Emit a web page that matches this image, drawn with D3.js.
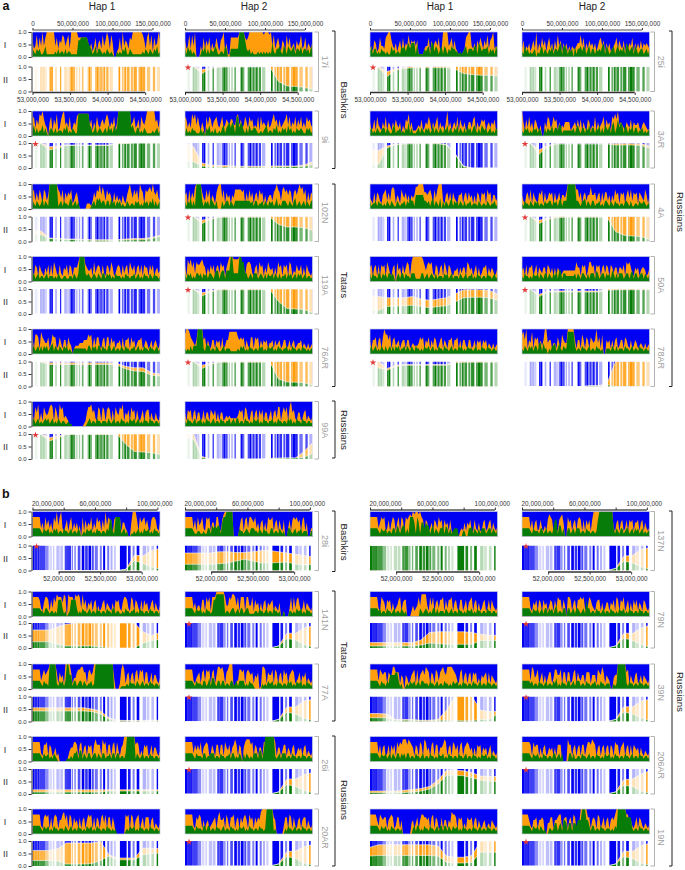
<!DOCTYPE html>
<html>
<head>
<meta charset="utf-8">
<script src="https://cdn.jsdelivr.net/npm/d3@7"></script>
<style>
  html, body { margin: 0; padding: 0; background: #fff; }
  svg { display: block; }
  text { font-family: "Liberation Sans", Arial, sans-serif; }
</style>
</head>
<body>
<svg id="chart" width="685" height="870"></svg>
<script>
// Genome-wide ancestry (I): one digit per step along the chromosome, 0-9 = 0.0-1.0.
// Order is row by row: Hap 1, Hap 2, Hap 1, Hap 2.
const genomeGreenA = [
  "3213231124 1111112131 2213122111 1166777775 4312413321 2132121002 1213241132 1111111213 2132132412",
  "3142312100 0132413132 2431122143 0033333399 9963231211 1212121212 1521334214 3143234133 2413323142",
  "2413312132 2121142312 2143424535 5515111132 3415524313 4143132433 2212123413 3324415423 3341323142",
  "2142312123 0213413213 2413324514 4313230413 3424313413 3132324514 3123413423 2415423414 3123312313",
  "2413122413 1023213122 2132412132 1188888888 4312412321 2314231423 9999999993 4213312132 1111212312",
  "1312132211 1312032412 1311213413 4535417735 4213142233 2112123412 2132412132 3142312132 2321132312",
  "2312132123 3132113412 2312132513 1112313213 2312413213 2132413213 2413213142 3134213143 2312312132",
  "2132312132 3132003132 2413324412 2222223134 2133132413 3132413143 2414513635 4143132413 3122312122",
  "3213212413 2199999912 3132213412 3130000000 0123143423 3133142313 2312113212 2132312132 3132413123",
  "3132413199 9931323143 2130003123 3132133333 3333332313 3122313213 2312412133 3213213412 3123132133",
  "3122313221 2132132113 2122313243 3155555533 2313413214 0313213413 2313213122 3122213212 2132122312",
  "2132213213 2312213223 3132313413 3399999933 2133413213 3122312133 2132132212 2133213112 2132232122",
  "2312312212 3122212132 1122112213 2139999323 2123213213 3132312132 2212132212 2312312132 2132132212",
  "3132312133 2313231332 1344134414 4499333399 7733123133 3123213132 2313213122 3132312313 2312312212",
  "3132213313 2313323102 3133132213 3311113312 3123213122 2132312312 2213212312 2312132212 2132212312",
  "2132212132 2313213313 2132414413 3222222313 2133213133 3143123313 2314313133 3123313413 3123313213",
  "2312313132 3123413213 2132312102 2222222213 3132313313 2213312312 2132132212 2312312132 2132212312",
  "2121313339 9992143312 2132112312 2211111213 2312132212 2132312132 2312132212 2312132212 2132212122",
  "2312312132 1312313132 3122313213 2132212132 2312312132 2132212312 2132312132 2212312132 2132212212",
  "2132132313 3144142202 1334124213 2288888312 2132212312 2132212002 2213213122 2132212312 2132212212",
  "2312312123 2312312132 1221121100 0000000012 3122132212 2213212312 2132212132 2312312132 2132212212",
  "2132212312 2312132212 3122132212 2312313312 2132212132 2312132212 2312132212 2132312132 2132212212"
];
const genomeOrangeA = [
  "6348374947 9999994736 5874683999 9977777775 3524725638 4697385002 3729465376 9999999863 7948274596",
  "6348384900 0427364725 3474267925 1177777799 9976799999 9999989998 9483574265 2847345264 5834725436",
  "3426523744 3789964352 4627354846 5646111134 4726356472 3999945736 3211123789 9435264753 6483679343",
  "3624352463 9253746257 3526384625 3524243345 5847253645 3524674625 3523457364 3625354725 3536354543",
  "6736487964 3057264823 6894537235 4788888888 4625374356 4686354725 9999999994 5734627546 9999995636",
  "7635386847 4253074763 5674357346 5466447846 3475375634 3727454363 4685636345 6847354736 4735375643",
  "5236274325 3725425364 3514265835 2223436235 4752535725 3425935245 3726435235 5367253465 6245354623",
  "9526373526 5324005376 3475625243 5555234536 3625326524 3725345726 4527686945 4325436254 4532454323",
  "6736375276 3599999976 4726465723 5630000022 2136476958 6375642635 3425325796 4757397627 6786965743",
  "5627364899 9964374725 4268994726 4525477777 6726374625 6375625245 5367976378 6757626757 9785726365",
  "4326265325 6736378725 4275463525 4588999966 5675274799 9325636264 3255625636 4525265265 6275625534",
  "5325637264 3265726346 5626346255 4699999977 4625635585 5635626366 3525375626 5625747365 6265437525",
  "4265264325 3626275326 3254626525 5579999654 4527356526 3265375235 6526356275 4625636265 5264624534",
  "6286857376 6786525364 6256375625 7999888899 6626776325 6275625375 4525275626 5627624364 4625264324",
  "5625626265 6275325607 4526357627 9999999864 6767326525 6275265324 4525355276 4524625235 5625354235",
  "4526255624 6254355265 3525254234 4444444475 5265624775 6265625636 5265355255 4627675325 4524554235",
  "6277628654 4624766236 4255264302 3334445557 6726366325 6266264524 4526255626 4524556235 4235245324",
  "7998654359 9995625325 5254526235 5888888656 5625326626 5625354524 4525345235 5235245234 4524324234",
  "5255625626 9775725634 5245525523 4333465625 4625365235 6254255625 5625255325 5235254525 4524324234",
  "7859254826 5625359945 5244264275 4499999525 5275265265 4594627005 4525256235 5265325235 4234324234",
  "5275825275 4578727528 6734320000 0000001257 7856327627 6267626275 4768254627 5626324625 6625325324",
  "5265625625 5236255265 4625255234 3433333465 6276325625 6264625524 6256377257 5727956325 5235624324"
];
const genomeGreenB = [
  "3333332132 2312132312 2132212312 2132012132 2312132212 2132662177 7712312001 1212312132 2312132212",
  "3333332112 2112113314 3434415779 9999000032 2123213332 2132132211 3312213212 0033212312 2312220022",
  "3333332132 2312213314 3134413177 7517515535 4413413213 3414313123 3300022003 3413213133 3123313213",
  "3333332132 2213312312 2136614413 0033123133 3122132212 2126999999 9999313213 3123312313 2312312122",
  "3333332213 3212212166 6312012666 6312132212 3122132212 2132213312 2112132212 2312132212 2132212212",
  "3333332132 2312132212 6688888812 2123312313 3123311112 2132212312 2132212002 0002212132 2312132212",
  "3333332312 2132212312 2132120000 0000032123 2121331312 2213212312 2132212132 2312132212 2132212212",
  "3333332132 2312313313 2313412213 3033123133 2123163312 2132212312 2132212132 2312132212 2132212212",
  "3333332132 2199999213 2313995513 3123313212 2312999999 9999999000 0011112132 2213212312 2132212212",
  "3333332132 2213312414 4213313312 2133123133 3312132210 0000212132 2312132212 2132312132 2312132212",
  "3333332132 2132555566 3120012132 2312313322 2132212312 2132212132 2312132212 2132212312 2132212212",
  "3333332312 2132212312 2132412132 2133123133 3122132212 2312132212 2200212999 9992132212 2132212212",
  "3333332132 2312132100 0000111213 3414413213 3123313213 3122313313 3122139999 9913212312 2132212212",
  "3333332132 2213312233 3122132212 2313312132 0313212133 3144149999 9992123133 3122132212 2132212212",
  "3333332132 2312313213 3132313312 2132212312 2132212132 2312132212 2132212312 2132212132 2312132212",
  "3333332132 2312132212 2133123130 0003313112 2132212312 2132212132 2312132212 2132212312 2132212212",
  "3333332132 2312132212 2213212312 2132212132 2312132212 2132212120 0000012132 2312132212 2132212212",
  "3333332132 2213313312 2132212312 2132212132 2312132212 2132212999 9912000000 2132212312 2132212212",
  "3333332132 2312132212 2120000000 2313312132 2132212313 3133132132 2312132212 2132212312 2132212212",
  "3333332132 2313212002 2124413415 5414414435 5599955313 3122132212 2212132999 9996666212 2132212212"
];
const genomeOrangeB = [
  "7777773527 4635275947 9324625725 3524072635 4725375626 3947661677 7725532005 9996275674 6326776325",
  "7777773627 4573276725 5277326899 9999000036 7267377657 3525625276 6725626326 0036267675 6267250033",
  "7777773576 7236257625 7276276787 9899897626 5235265375 6264526210 0002325254 6226325225 6235625324",
  "7777773625 6236324268 7625326785 0075625626 7626264626 9999999999 9999325625 6236265625 5625625324",
  "7777763257 7626375877 7587087775 8787384625 4625624235 6254325265 6325776327 6265326264 5235625324",
  "7777773524 4266275727 7799999974 4768874727 7727744726 4525256254 5624325002 0003727367 4236254324",
  "7777773276 5265625234 6725660002 4234748888 4274725636 6726366725 6326624625 6725625235 6236264324",
  "7777773254 6265264524 6526376626 4077625626 6767324764 3256625235 5254627626 5724625264 6254265324",
  "7777773575 6799999626 4529999624 4677886626 7569999999 9999999400 0279725625 6267376726 6236255324",
  "7777773245 6267376726 7258878626 7999003377 6726765625 4601887265 5727625627 5625676234 6254624324",
  "7777773765 6626558866 6254054235 6727256758 7626527636 7865888876 5326725625 6265624254 5626254324",
  "7777773874 5724625246 6247755726 6266236726 4355266625 5527658625 4300455999 9996725325 6235254324",
  "7777773266 7265235230 0000024557 7626725626 5626866628 6726626727 4256999999 9967624265 6236255324",
  "7777773646 4725676236 4266266275 4625686265 0578886726 5255277999 9997255246 6254256235 4525624324",
  "7777773625 6236264627 5768886876 5265276287 4526726625 5687256276 4626725676 4525265625 4524624324",
  "7777776275 6625256235 4525266600 0086625625 6266257768 7625625625 6265276625 6725626265 4525324324",
  "7777773267 6726267625 5785727626 4526256257 6726265267 4726626400 0000076727 6256724626 6625624324",
  "7777773265 7625245234 5626855627 5266725626 4675275626 4658999999 9965000003 6627626325 6256625324",
  "7777753765 6625676236 6250000004 5246257766 5626726522 6255254877 6265624265 5625625324 5234254324",
  "7777753255 6255650044 6625567725 6625627624 4999996625 6527624625 6256579999 9997725324 6265324324"
];

// Local ancestry (II): percent at 16 even steps across the region.
const fullLevel = [100,100,100,100,100,100,100,100,100,100,100,100,100,100,100,100];
const noLevel = [0,0,0,0,0,0,0,0,0,0,0,0,0,0,0,0];
const localGreenA = [
  noLevel, [100,100,72,92,97,98,98,98,98,98,98,40,22,20,17,8], [100,95,60,85,92,95,95,95,95,95,90,72,68,65,65,62], fullLevel,
  [100,97,72,80,90,90,90,90,90,90,97,98,100,100,100,100], [30,25,8,5,3,3,3,3,3,3,3,4,5,5,7,15], [15,15,80,93,96,97,97,97,97,92,55,5,0,0,0,0], [100,100,55,85,96,96,96,96,96,96,96,92,92,92,90,80],
  [30,28,12,10,8,8,6,5,5,5,5,6,7,7,12,20], [100,100,72,88,97,97,97,97,97,97,97,68,58,58,55,45], noLevel, [100,100,72,88,95,97,97,97,97,97,97,40,25,22,20,8],
  noLevel, [100,100,72,88,97,97,97,97,97,97,97,50,22,20,18,5], [15,15,30,32,33,35,30,25,30,33,48,65,67,67,65,55], [100,100,70,88,88,88,88,88,88,88,95,97,97,97,97,97],
  [100,97,88,88,88,88,88,88,88,88,85,70,62,60,45,42], [100,100,72,88,97,97,97,97,97,97,97,30,18,17,15,5], [100,75,65,80,85,85,85,85,85,85,95,97,97,97,97,97], [0,0,0,0,0,0,0,0,3,3,7,0,0,0,0,0],
  [100,98,72,85,98,98,98,98,98,98,98,58,30,28,25,18], [85,80,5,0,0,0,0,0,0,0,2,3,4,4,7,22]
];
const localOrangeA = [
  fullLevel, [100,100,88,95,100,100,100,100,100,100,100,100,100,100,100,100], [100,100,80,90,97,100,100,100,100,100,100,100,100,100,100,100], fullLevel,
  [100,100,85,88,92,92,92,92,92,92,100,100,100,100,100,100], [100,85,20,12,10,10,7,7,7,7,8,8,8,8,12,25], [75,70,88,96,98,99,99,99,99,95,58,8,0,0,0,0], [100,100,72,90,98,98,98,98,98,98,98,98,98,98,97,88],
  [45,42,14,12,10,10,8,7,7,7,7,10,12,12,16,25], [100,100,85,93,100,100,100,100,100,100,100,100,100,100,100,100], noLevel, [100,100,85,93,100,100,100,100,100,100,100,100,100,100,100,100],
  noLevel, [100,100,85,93,100,100,100,100,100,100,100,100,100,100,100,100], [72,70,65,65,65,70,60,55,60,65,80,97,97,97,95,80], [100,100,78,92,92,92,92,92,92,92,100,100,100,100,100,100],
  [100,100,95,95,95,95,95,95,95,95,92,80,75,75,55,50], [100,100,85,93,100,100,100,100,100,100,100,100,100,100,100,100], [100,100,72,85,88,88,88,88,88,88,100,100,100,100,100,100], [0,0,0,0,0,0,0,0,3,3,12,100,100,100,100,100],
  [100,100,85,92,100,100,100,100,100,100,100,100,100,100,100,100], [100,100,10,0,0,0,0,0,0,0,2,3,4,4,30,65]
];
const localGreenB = [
  [0,0,0,0,0,0,0,0,0,0,0,5,40,28,15,5], [25,25,25,25,27,30,38,45,38,30,30,32,34,25,22,25], fullLevel, [0,0,0,0,0,0,0,0,0,0,0,8,38,30,15,5],
  [25,25,25,15,8,8,8,8,5,0,0,0,0,20,30,35], [0,0,0,0,0,0,0,0,0,0,0,8,38,32,15,4], [8,8,8,8,8,8,12,20,18,15,15,15,15,30,30,30], [0,0,0,0,0,0,0,0,0,0,0,8,40,30,15,3],
  [42,42,42,42,42,42,42,40,30,10,3,3,3,3,3,3], [0,0,0,0,0,0,0,0,0,0,0,8,38,30,14,4], [15,15,15,5,5,5,3,2,5,5,5,3,3,8,8,30], [0,0,0,0,0,0,0,0,0,0,0,8,38,30,15,3],
  [8,8,8,8,8,8,8,8,8,12,12,12,12,12,12,12], [0,0,0,0,0,0,0,0,0,0,0,8,38,30,14,5], [5,5,5,5,6,8,12,20,40,75,75,73,65,55,52,50], [0,0,0,0,0,0,0,0,0,0,0,8,35,30,12,3],
  [22,22,22,20,8,8,8,10,22,40,25,25,25,45,50,52], [0,0,0,0,0,0,0,0,0,0,0,8,38,30,12,4], [40,42,42,42,42,42,42,42,40,15,12,12,15,55,55,55], [0,0,0,0,0,0,0,0,0,0,0,8,38,30,12,3]
];
const localOrangeB = [
  [0,0,0,0,0,0,0,0,0,0,0,5,62,58,80,88], [70,70,70,70,75,75,72,72,75,80,80,75,70,65,60,55], fullLevel, [0,0,0,0,0,0,0,0,0,0,0,8,58,60,85,90],
  [72,72,72,85,95,100,100,100,100,100,100,100,100,65,50,62], [0,0,0,0,0,0,0,0,0,0,0,8,60,58,80,88], [22,22,22,22,22,22,32,62,65,65,65,65,62,55,52,50], [0,0,0,0,0,0,0,0,0,0,0,8,60,58,80,90],
  [55,55,55,55,55,55,55,50,42,15,5,4,4,4,5,5], [0,0,0,0,0,0,0,0,0,0,0,8,58,58,82,88], [32,32,30,8,8,8,5,5,8,45,100,100,100,45,40,40], [0,0,0,0,0,0,0,0,0,0,0,8,60,58,82,88],
  [17,17,17,17,17,17,17,17,17,17,17,17,17,17,17,17], [0,0,0,0,0,0,0,0,0,0,0,8,60,60,78,85], [12,12,12,12,15,18,22,30,55,95,95,93,85,72,70,70], [0,0,0,0,0,0,0,0,0,0,0,8,58,60,80,92],
  [62,62,62,70,92,92,92,92,98,45,32,32,32,72,70,70], [0,0,0,0,0,0,0,0,0,0,0,8,58,60,78,85], [75,85,85,85,85,85,85,85,80,40,35,35,42,100,100,100], [0,0,0,0,0,0,0,0,0,0,0,8,60,58,82,90]
];

// Genotyped sites: region start and end in Mb, and how dense they are.
const sitesStartA = [53.031,53.102,53.120,53.138,53.169,53.226,53.250,53.302,53.368,53.422,53.457,53.493,53.510,53.537,53.581,53.617,53.657,53.732,53.746,53.768,53.834,53.857,53.879,53.901,53.923,53.945,53.981,54.025,54.145,54.190,54.221,54.256,54.309,54.345,54.411,54.434,54.465,54.522,54.602,54.655];
const sitesEndA = [53.067,53.120,53.138,53.165,53.191,53.250,53.271,53.324,53.382,53.457,53.490,53.510,53.537,53.568,53.599,53.635,53.679,53.746,53.768,53.790,53.857,53.879,53.901,53.923,53.945,53.968,54.012,54.070,54.167,54.212,54.247,54.292,54.336,54.389,54.434,54.465,54.500,54.567,54.633,54.700];
const sitesDensityA = [.08,.35,.25,.3,.2,.85,1,.3,1,.3,.2,.6,.95,.7,.3,.35,.6,.4,1,.6,.7,1,.5,.8,.5,.9,.75,.3,1,.6,.9,.8,.7,.85,.7,1,.85,.55,.7,.3];
const sitesStartB = [51.685,51.710,51.746,51.770,51.839,51.887,51.931,51.972,52.020,52.073,52.101,52.157,52.190,52.230,52.278,52.319,52.359,52.399,52.435,52.496,52.536,52.585,52.625,52.665,52.738,52.835,52.891,52.940,53.012,53.060,53.117,53.181];
const sitesEndB = [51.710,51.746,51.770,51.839,51.879,51.919,51.948,52.012,52.052,52.101,52.149,52.173,52.206,52.262,52.310,52.351,52.391,52.423,52.472,52.520,52.560,52.609,52.649,52.690,52.819,52.867,52.915,52.972,53.052,53.093,53.149,53.198];
const sitesDensityB = [1,.85,.9,.75,.45,.15,.2,.25,.25,.75,.8,.5,.55,.7,1,.8,1,.7,.55,.5,1,.55,.3,.2,1,.9,.5,1,.3,.2,.25,1];

// Rows of samples, left pair of columns then right pair
const samplesLeftA = ["17i", "9i", "102N", "119A", "76AR", "99A"];
const samplesRightA = ["25i", "3AR", "4A", "50A", "78AR"];
const samplesLeftB = ["28i", "141N", "77A", "26i", "20AR"];
const samplesRightB = ["137N", "79N", "39N", "206AR", "19N"];

// Which panels carry the red star: [row, column]
const starsA = [[0,1],[0,2],[1,0],[1,3],[2,1],[2,3],[3,1],[3,3],[4,1],[4,2],[5,0]];
const starsB = [[0,0],[0,3],[1,1],[1,3],[2,1],[2,3],[3,1],[3,3],[4,1],[4,3]];

const genomeTicksA = [0, 50000000, 100000000, 150000000];
const regionTicksA = [53000000, 53500000, 54000000, 54500000];
const genomeTicksB = [20000000, 40000000, 60000000, 80000000, 100000000];
const regionTicksB = [52000000, 52500000, 53000000];

const BLUE = "#0000f2", GREEN = "#087c08", ORANGE = "#ff9d0c";
const columns = [32.5, 185, 370, 522];
const panelW = 127.5, panelH = 25;

const svg = d3.select("#chart");
const commaFormat = d3.format(",");
const y = d3.scaleLinear().domain([0, 1]).range([panelH, 0]);

// bars of the local panels live in a mask, one per section
function addMask(id, starts, ends, density, x) {
  const mask = svg.append("mask")
    .attr("id", id)
    .attr("maskUnits", "userSpaceOnUse")
    .attr("x", -2).attr("y", -2)
    .attr("width", panelW + 4).attr("height", panelH + 4);
  mask.selectAll("rect")
    .data(starts)
    .enter()
    .append("rect")
    .attr("x", (d) => x(d))
    .attr("width", (d, i) => x(ends[i]) - x(d))
    .attr("y", 0)
    .attr("height", panelH)
    .attr("fill", "#fff")
    .attr("fill-opacity", (d, i) => density[i]);
}

function seriesArea(values) {
  const x = d3.scaleLinear().domain([0, values.length - 1]).range([0, panelW]);
  return d3.area()
    .x((d, i) => x(i))
    .y0(panelH)
    .y1((d) => y(d))(values);
}

function seriesLine(values) {
  const x = d3.scaleLinear().domain([0, values.length - 1]).range([0, panelW]);
  return d3.line()
    .x((d, i) => x(i))
    .y((d) => y(d))(values);
}

function yAxis(g) {
  g.call(d3.axisLeft(y).tickValues([0, 0.5, 1]).tickFormat(d3.format(".1f")).tickSize(3).tickSizeOuter(0).tickPadding(2));
  g.selectAll("path, line").attr("stroke", "#222").attr("stroke-width", 0.9);
  g.selectAll("text").attr("font-size", 6).attr("fill", "#333");
}

function drawGenomePanel(x0, top, green, orange) {
  const toValues = (s) => s.match(/\d/g).map((c) => +c / 9);
  const g = svg.append("g").attr("transform", `translate(${x0},${top})`);
  g.append("rect").attr("width", panelW).attr("height", panelH).attr("fill", BLUE);
  g.append("path").attr("d", seriesArea(toValues(orange))).attr("fill", ORANGE);
  g.append("path").attr("d", seriesArea(toValues(green))).attr("fill", GREEN);
  g.append("rect")
    .attr("width", panelW).attr("height", panelH)
    .attr("fill", "none").attr("stroke", "#c9cfe0").attr("stroke-width", 0.7);
  return g;
}

function drawLocalPanel(x0, top, green, orange, maskId) {
  const g = svg.append("g").attr("transform", `translate(${x0},${top})`);
  const bars = g.append("g").attr("mask", `url(#${maskId})`);
  const greenVals = green.map((d) => d / 100);
  const orangeVals = orange.map((d) => d / 100);
  bars.append("rect").attr("width", panelW).attr("height", panelH).attr("fill", BLUE);
  bars.append("path").attr("d", seriesArea(orangeVals)).attr("fill", ORANGE);
  bars.append("path").attr("d", seriesArea(greenVals)).attr("fill", GREEN);
  // thin pale seam where one ancestry meets the next
  [orangeVals, greenVals].forEach((vals) => {
    bars.append("path")
      .attr("d", seriesLine(vals))
      .attr("fill", "none").attr("stroke", "#fff").attr("stroke-width", 0.7).attr("stroke-opacity", 0.8);
  });
  return g;
}

function drawStar(x0, top, section) {
  svg.append("path")
    .attr("d", d3.symbol(d3.symbolStar, 14)())
    .attr("transform", `translate(${x0 + (section === "a" ? 3 : 4)},${top + 1})`)
    .attr("fill", "#e23a3a");
}

function bracket(x, y0, y1, arm, color, width) {
  svg.append("path")
    .attr("d", `M${x - arm},${y0}H${x}V${y1}H${x - arm}`)
    .attr("fill", "none").attr("stroke", color).attr("stroke-width", width);
}

function rotatedLabel(x, cy, label, size, color) {
  svg.append("text")
    .attr("transform", `translate(${x},${cy}) rotate(90)`)
    .attr("text-anchor", "middle")
    .attr("dominant-baseline", "middle")
    .attr("font-size", size)
    .attr("fill", color)
    .text(label);
}

function drawAxis(axis, yPos, x0, lineColor) {
  const g = svg.append("g").attr("transform", `translate(${x0},${yPos})`).call(axis);
  g.select(".domain").attr("stroke", lineColor).attr("stroke-width", 1.4);
  g.selectAll("line").attr("stroke", "#222").attr("stroke-width", 0.9);
  g.selectAll("text").attr("font-size", 6.4).attr("fill", "#333");
  return g;
}

function drawSection(opts) {
  const { rowsI, rowsII, green, orange, lGreen, lOrange, stars, maskId, section } = opts;
  let k = 0;
  rowsI.forEach((top, r) => {
    columns.forEach((x0, c) => {
      if (k >= green.length || (r >= opts.rightRows && c > 1)) return;
      drawGenomePanel(x0, top, green[k], orange[k]);
      drawLocalPanel(x0, rowsII[r], lGreen[k], lOrange[k], maskId);
      if (stars.some((s) => s[0] === r && s[1] === c)) drawStar(x0, rowsII[r], section);
      if (c === 0) {
        svg.append("g").attr("transform", `translate(${x0 - 1},${top})`).call(yAxis);
        svg.append("g").attr("transform", `translate(${x0 - 1},${rowsII[r]})`).call(yAxis);
        svg.append("text").attr("x", 5).attr("y", top + panelH / 2 + 3.5)
          .attr("text-anchor", "middle").attr("font-size", 9).attr("fill", "#333").text("I");
        svg.append("text").attr("x", 5.5).attr("y", rowsII[r] + panelH / 2 + 3.5)
          .attr("text-anchor", "middle").attr("font-size", 9).attr("fill", "#333").text("II");
      }
      k += 1;
    });
  });
}

// ---- section a ----
const rowsIA = [32, 111, 184, 256.5, 329, 401.5];
const rowsIIA = [66.5, 143, 216.5, 289, 361.5, 434];
const regionXA = d3.scaleLinear().domain([53, 54.697]).range([0, panelW]);
addMask("sitesA", sitesStartA, sitesEndA, sitesDensityA, regionXA);
drawSection({
  rowsI: rowsIA, rowsII: rowsIIA, rightRows: 5,
  green: genomeGreenA, orange: genomeOrangeA,
  lGreen: localGreenA, lOrange: localOrangeA,
  stars: starsA, maskId: "sitesA", section: "a"
});

const genomeXA = d3.scaleLinear().domain([0, 159400000]).range([0, panelW]);
const regionBpA = d3.scaleLinear().domain([53000000, 54697000]).range([0, panelW]);
columns.forEach((x0) => {
  const top = d3.axisTop(genomeXA).tickValues(genomeTicksA).tickFormat(commaFormat).tickSize(2).tickSizeOuter(0).tickPadding(2);
  const topG = drawAxis(top, 30, x0, "#8a8a8a");
  topG.select(".domain").attr("d", `M${genomeXA(0)},0H${genomeXA(150000000)}`);
  const bottom = d3.axisBottom(regionBpA).tickValues(regionTicksA).tickFormat(commaFormat).tickSize(2.5).tickSizeOuter(0).tickPadding(2);
  const bottomG = drawAxis(bottom, 92.5, x0, "#333");
  bottomG.select(".domain").attr("d", `M${regionBpA(53000000)},0H${regionBpA(54500000)}`);
});

// ---- section b ----
const rowsIB = [511.5, 591.5, 664, 736.5, 809];
const rowsIIB = [545.5, 623, 696.5, 769, 841];
const regionXB = d3.scaleLinear().domain([51.685, 53.221]).range([0, panelW]);
addMask("sitesB", sitesStartB, sitesEndB, sitesDensityB, regionXB);
drawSection({
  rowsI: rowsIB, rowsII: rowsIIB, rightRows: 5,
  green: genomeGreenB, orange: genomeOrangeB,
  lGreen: localGreenB, lOrange: localOrangeB,
  stars: starsB, maskId: "sitesB", section: "b"
});

const genomeXB = d3.scaleLinear().domain([20000000, 101700000]).range([0, panelW]);
const regionBpB = d3.scaleLinear().domain([51685000, 53221000]).range([0, panelW]);
columns.forEach((x0) => {
  const top = d3.axisTop(genomeXB).tickValues(genomeTicksB)
    .tickFormat((d) => (d === 40000000 || d === 80000000 ? "" : commaFormat(d)))
    .tickSize(2.5).tickSizeOuter(0).tickPadding(2);
  const topG = drawAxis(top, 510, x0, "#555");
  topG.select(".domain").attr("d", `M${genomeXB(20000000)},0H${genomeXB(100000000)}`);
  // first and last labels are pulled in over the panel
  topG.selectAll("text").filter((d) => d === 20000000).attr("dx", 15);
  topG.selectAll("text").filter((d) => d === 100000000).attr("dx", -3);
  const bottom = d3.axisBottom(regionBpB).tickValues(regionTicksB).tickFormat(commaFormat).tickSize(2.5).tickSizeOuter(0).tickPadding(2);
  const bottomG = drawAxis(bottom, 572, x0, "#333");
  bottomG.select(".domain").attr("d", `M${regionBpB(52000000)},0H${regionBpB(53000000)}`);
});

// ---- sample labels and brackets ----
const LIGHT = "#a9a9a9";
function sampleBrackets(names, rowsI, rowsII, barX) {
  names.forEach((name, i) => {
    const y0 = rowsI[i], y1 = rowsII[i] + panelH;
    bracket(barX, y0, y1, 4, LIGHT, 0.9);
    rotatedLabel(barX + 6, (y0 + y1) / 2, name, 9, "#a0a0a0");
  });
}
sampleBrackets(samplesLeftA, rowsIA, rowsIIA, 318.5);
sampleBrackets(samplesRightA, rowsIA, rowsIIA, 654.5);
sampleBrackets(samplesLeftB, rowsIB, rowsIIB, 318.5);
sampleBrackets(samplesRightB, rowsIB, rowsIIB, 654.5);

// population brackets
bracket(335, 31, 168.5, 3, "#222", 1);
rotatedLabel(343.5, 100, "Bashkirs", 9.7, "#222");
bracket(335, 184, 386.5, 3, "#222", 1);
rotatedLabel(343.5, 285, "Tatars", 9.7, "#222");
bracket(335, 401, 458, 3, "#222", 1);
rotatedLabel(343.5, 430, "Russians", 9.7, "#222");
bracket(672, 31, 386.5, 3, "#222", 1);
rotatedLabel(679.5, 212, "Russians", 9.7, "#222");

bracket(335, 511, 571.5, 3, "#222", 1);
rotatedLabel(343.5, 542, "Bashkirs", 9.7, "#222");
bracket(335, 591, 721, 3, "#222", 1);
rotatedLabel(343.5, 655, "Tatars", 9.7, "#222");
bracket(335, 736, 866, 3, "#222", 1);
rotatedLabel(343.5, 800, "Russians", 9.7, "#222");
bracket(672, 511, 866, 3, "#222", 1);
rotatedLabel(679.5, 692, "Russians", 9.7, "#222");

// ---- headings ----
[["Hap 1", 102], ["Hap 2", 254], ["Hap 1", 440], ["Hap 2", 592]].forEach((h) => {
  svg.append("text").attr("x", h[1]).attr("y", 9.5)
    .attr("text-anchor", "middle").attr("font-size", 10).attr("fill", "#222").text(h[0]);
});
svg.append("text").attr("x", 2.5).attr("y", 10).attr("font-size", 12.5).attr("font-weight", "bold").attr("fill", "#111").text("a");
svg.append("text").attr("x", 2).attr("y", 498).attr("font-size", 12.5).attr("font-weight", "bold").attr("fill", "#111").text("b");
</script>
</body>
</html>
